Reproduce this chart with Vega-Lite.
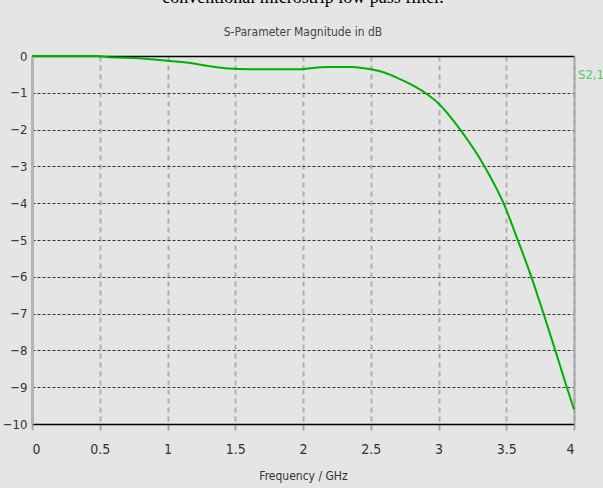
{
  "$schema": "https://vega.github.io/schema/vega-lite/v6.json",
  "width": 542,
  "height": 368,
  "autosize": {"type": "none"},
  "padding": {"left": 32, "top": 56, "right": 29, "bottom": 64},
  "background": "#e5e5e5",
  "title": {
    "text": "conventional microstrip low pass filter.",
    "subtitle": "S-Parameter Magnitude in dB",
    "font": "Liberation Serif",
    "fontSize": 18,
    "fontWeight": "normal",
    "color": "#000000",
    "subtitleFont": "Liberation Sans Narrow, DejaVu Sans Condensed, sans-serif",
    "subtitleFontSize": 12,
    "subtitleColor": "#444444",
    "subtitlePadding": 20,
    "offset": 12,
    "anchor": "middle"
  },
  "config": {
    "view": {"stroke": null},
    "axis": {
      "labelFont": "Liberation Sans Narrow, DejaVu Sans Condensed, sans-serif",
      "titleFont": "Liberation Sans Narrow, DejaVu Sans Condensed, sans-serif",
      "labelColor": "#333333",
      "titleColor": "#333333"
    }
  },
  "data": {
    "values": [
      {"f": 0, "db": 0, "s": "S2,1"},
      {"f": 0.25, "db": 0, "s": "S2,1"},
      {"f": 0.49, "db": 0, "s": "S2,1"},
      {"f": 0.55, "db": -0.03, "s": "S2,1"},
      {"f": 0.7, "db": -0.05, "s": "S2,1"},
      {"f": 0.85, "db": -0.08, "s": "S2,1"},
      {"f": 1.0, "db": -0.13, "s": "S2,1"},
      {"f": 1.18, "db": -0.2, "s": "S2,1"},
      {"f": 1.3, "db": -0.27, "s": "S2,1"},
      {"f": 1.45, "db": -0.34, "s": "S2,1"},
      {"f": 1.6, "db": -0.36, "s": "S2,1"},
      {"f": 1.8, "db": -0.36, "s": "S2,1"},
      {"f": 1.98, "db": -0.36, "s": "S2,1"},
      {"f": 2.05, "db": -0.33, "s": "S2,1"},
      {"f": 2.2, "db": -0.3, "s": "S2,1"},
      {"f": 2.35, "db": -0.3, "s": "S2,1"},
      {"f": 2.45, "db": -0.33, "s": "S2,1"},
      {"f": 2.5, "db": -0.36, "s": "S2,1"},
      {"f": 2.6, "db": -0.45, "s": "S2,1"},
      {"f": 2.7, "db": -0.6, "s": "S2,1"},
      {"f": 2.8, "db": -0.78, "s": "S2,1"},
      {"f": 2.9, "db": -1.0, "s": "S2,1"},
      {"f": 3.0, "db": -1.29, "s": "S2,1"},
      {"f": 3.16, "db": -2.0, "s": "S2,1"},
      {"f": 3.34, "db": -3.0, "s": "S2,1"},
      {"f": 3.48, "db": -4.0, "s": "S2,1"},
      {"f": 3.585, "db": -5.0, "s": "S2,1"},
      {"f": 3.685, "db": -6.0, "s": "S2,1"},
      {"f": 3.775, "db": -7.0, "s": "S2,1"},
      {"f": 3.862, "db": -8.0, "s": "S2,1"},
      {"f": 3.947, "db": -9.0, "s": "S2,1"},
      {"f": 4.0, "db": -9.6, "s": "S2,1"}
    ]
  },
  "layer": [
    {
      "mark": {"type": "line", "opacity": 0},
      "encoding": {
        "x": {
          "field": "f", "type": "quantitative",
          "scale": {"domain": [0, 4], "nice": false, "zero": false},
          "axis": {
            "orient": "top", "title": null, "labels": false, "ticks": false, "grid": false,
            "domainColor": "#000000", "domainWidth": 1.5
          }
        },
        "y": {
          "field": "db", "type": "quantitative",
          "scale": {"domain": [-10, 0], "nice": false},
          "axis": {
            "orient": "right", "title": null, "labels": false, "ticks": false, "grid": false,
            "domainColor": "#a8a8a8", "domainWidth": 2
          }
        }
      }
    },
    {
      "mark": {"type": "line", "strokeWidth": 2, "interpolate": "monotone"},
      "encoding": {
        "x": {
          "field": "f", "type": "quantitative",
          "scale": {"domain": [0, 4], "nice": false, "zero": false},
          "axis": {
            "orient": "bottom", "title": "Frequency / GHz",
            "values": [0, 0.5, 1, 1.5, 2, 2.5, 3, 3.5, 4],
            "format": "~g",
            "labelFontSize": 14, "titleFontSize": 12, "titleFontWeight": "normal",
            "titlePadding": 14,
            "tickSize": 6, "tickColor": "#a8a8a8", "tickWidth": 2,
            "labelPadding": 12,
            "domainColor": "#000000", "domainWidth": 1.5,
            "grid": true, "gridColor": "#b0b0b0", "gridWidth": 2, "gridDash": [5, 4]
          }
        },
        "y": {
          "field": "db", "type": "quantitative",
          "scale": {"domain": [-10, 0], "nice": false},
          "axis": {
            "orient": "left", "title": null,
            "values": [0, -1, -2, -3, -4, -5, -6, -7, -8, -9, -10],
            "labelFontSize": 13, "labelPadding": 5, "ticks": false,
            "domainColor": "#b4b4b4", "domainWidth": 3,
            "grid": true, "gridColor": "#333333", "gridWidth": 1, "gridDash": [3, 2]
          }
        },
        "color": {
          "field": "s", "type": "nominal",
          "scale": {"domain": ["S2,1"], "range": ["#00b000"]},
          "legend": {
            "orient": "none", "legendX": 533, "legendY": 12, "title": null,
            "symbolSize": 0, "symbolOpacity": 0, "labelOffset": 0, "padding": 0,
            "labelColor": "#5cc85c", "labelFontSize": 13,
            "labelFont": "Liberation Sans Narrow, DejaVu Sans Condensed, sans-serif"
          }
        }
      }
    }
  ],
  "resolve": {"axis": {"x": "independent", "y": "independent"}}
}
